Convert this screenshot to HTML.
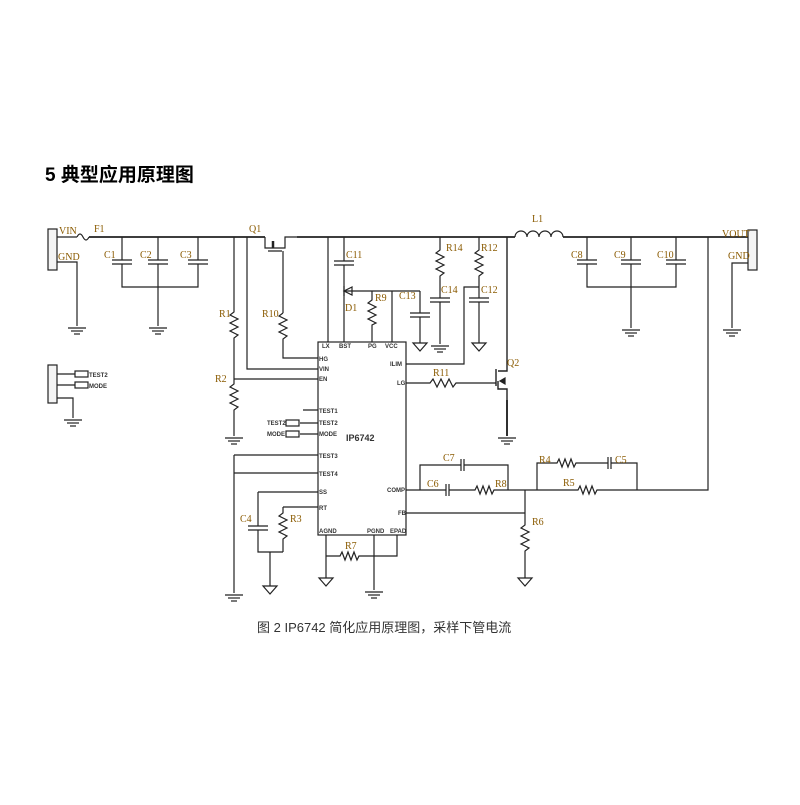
<!DOCTYPE html>
<html><head><meta charset="utf-8"><style>
body{margin:0;background:#fff;width:800px;height:800px;overflow:hidden}
.o{fill:#8a5a00;font-family:"Liberation Serif",serif}
</style></head><body>
<svg width="800" height="800" viewBox="0 0 800 800" xmlns="http://www.w3.org/2000/svg">
<defs>
<g id="gnd"><line x1="-9" y1="0" x2="9" y2="0"/><line x1="-6" y1="3" x2="6" y2="3"/><line x1="-3" y1="6" x2="3" y2="6"/></g>
<g id="tri"><path d="M-7 0H7L0 8Z" fill="none"/></g>
</defs>
<text x="45" y="181" style="font-family:'Liberation Sans','Noto Sans CJK SC',sans-serif;font-size:19px;font-weight:bold">5 典型应用原理图</text>
<g stroke="#222" stroke-width="1.2" fill="none">
<path d="M57 237H77"/><path d="M77 237q3-6 6 0t6 0"/><path d="M89 237H265M297 237H515" stroke-width="1.8"/>
<path d="M515 237a6 6 0 0 1 12 0a6 6 0 0 1 12 0a6 6 0 0 1 12 0a6 6 0 0 1 12 0"/>
<path d="M563 237H750" stroke-width="1.8"/>
<rect x="48" y="229" width="9" height="41" fill="#f4f4f4"/>
<rect x="748" y="230" width="9" height="40" fill="#f4f4f4"/>
<path d="M57 262H77V326"/><use href="#gnd" x="77" y="328"/>
<path d="M122 237V260M158 237V260M198 237V260M122 264V287H198V264M158 264V326"/>
<path d="M112 260H132M112 264H132M148 260H168M148 264H168M188 260H208M188 264H208"/>
<use href="#gnd" x="158" y="328"/>
<path d="M265 237V248H285V237H297M268 251H282M283 251V313"/>
<path d="M273 241V248" stroke-width="2.5"/>
<path d="M234 237V312l-4 3 8 4-8 4 8 4-8 4 8 4-4 3V384l-4 3 8 4-8 4 8 4-8 4 8 4-4 3V436"/>
<path d="M234 379H318"/><use href="#gnd" x="234" y="438"/>
<path d="M247 237V369H318"/>
<path d="M283 313l-4 3 8 4-8 4 8 4-8 4 8 4-4 3V358H318"/>
<rect x="318" y="342" width="88" height="193"/>
<path d="M328 237V342M344 237V261M344 265V342M334 261H354M334 265H354"/>
<path d="M344 291H420M372 291V300l-4 3 8 4-8 4 8 4-8 4 8 4-4 2V342M392 291V342"/>
<path d="M352 287l-8 4 8 4Z M344 286V296"/>
<path d="M420 291V313M410 313H430M410 317H430M420 317V343"/><use href="#tri" x="420" y="343"/>
<path d="M440 237V250l-4 3 8 4-8 4 8 4-8 4 8 4-4 3V298M430 298H450M430 302H450M440 302V344"/><use href="#gnd" x="440" y="346"/>
<path d="M479 237V250l-4 3 8 4-8 4 8 4-8 4 8 4-4 3V298M469 298H489M469 302H489M479 302V343"/><use href="#tri" x="479" y="343"/>
<path d="M406 364H464V287H479"/>
<path d="M507 237V371H498M498 381V389H507V436M496 369V386" stroke-width="1.4"/>
<path d="M406 383H430l3-4 4 8 4-8 4 8 4-8 4 8 3-4H496"/>
<path d="M500 381l5-3v6z" fill="#222"/>
<path d="M507 400V436" stroke-width="1.8"/><use href="#gnd" x="507" y="438"/>
<path d="M587 237V260M631 237V260M676 237V260M587 264V287H676V264M631 264V328"/>
<path d="M577 260H597M577 264H597M621 260H641M621 264H641M666 260H686M666 264H686"/>
<use href="#gnd" x="631" y="330"/>
<path d="M748 263H732V328"/><use href="#gnd" x="732" y="330"/>
<path d="M708 237V490H637"/>
<path d="M406 490H446M449 490H475l2-4 3 8 3-8 3 8 3-8 3 8 2-4H525"/>
<path d="M446 484V496M449 484V496"/>
<path d="M420 490V465H461M464 465H508V490M461 459V471M464 459V471"/>
<path d="M525 490H578l2-4 3 8 3-8 3 8 3-8 3 8 2-4H637"/>
<path d="M537 490V463H557l2-4 3 8 3-8 3 8 3-8 3 8 2-4H608M611 463H637V490M608 457V469M611 457V469"/>
<path d="M406 513H525M525 490V525l-4 3 8 4-8 4 8 4-8 4 8 4-4 3V578"/><use href="#tri" x="525" y="578"/>
<path d="M234 455H318M234 473H318M234 455V593"/><use href="#gnd" x="234" y="595"/>
<path d="M258 492H318M258 492V526M248 526H268M248 530H268M258 530V552H283M283 507H318M283 507V513l-4 3 8 4-8 4 8 4-8 4 8 4-4 3V552M270 552V586"/>
<use href="#tri" x="270" y="586"/>
<path d="M326 535V578M326 556H340l2-4 3 8 3-8 3 8 3-8 3 8 2-4H397V535M374 535V590"/>
<use href="#tri" x="326" y="578"/><use href="#gnd" x="374" y="592"/>
<path d="M303 410H318M300 423H318M300 434H318"/>
<rect x="286" y="420" width="13" height="6"/><rect x="286" y="431" width="13" height="6"/>
<rect x="48" y="365" width="9" height="38" fill="#f4f4f4"/>
<path d="M57 374H75M57 385H75M57 398H73V418"/>
<rect x="75" y="371" width="13" height="6"/><rect x="75" y="382" width="13" height="6"/>
<use href="#gnd" x="73" y="420"/>
</g>
<g font-size="10" class="o">
<text x="59" y="234">VIN</text><text x="94" y="232">F1</text><text x="58" y="260">GND</text>
<text x="104" y="258">C1</text><text x="140" y="258">C2</text><text x="180" y="258">C3</text>
<text x="249" y="232">Q1</text><text x="346" y="258">C11</text><text x="345" y="311">D1</text>
<text x="375" y="301">R9</text><text x="399" y="299">C13</text><text x="446" y="251">R14</text>
<text x="481" y="251">R12</text><text x="441" y="293">C14</text><text x="481" y="293">C12</text>
<text x="532" y="222">L1</text><text x="722" y="237">VOUT</text><text x="728" y="259">GND</text>
<text x="571" y="258">C8</text><text x="614" y="258">C9</text><text x="657" y="258">C10</text>
<text x="219" y="317">R1</text><text x="262" y="317">R10</text><text x="215" y="382">R2</text>
<text x="433" y="376">R11</text><text x="507" y="366">Q2</text>
<text x="443" y="461">C7</text><text x="427" y="487">C6</text><text x="495" y="487">R8</text>
<text x="539" y="463">R4</text><text x="615" y="463">C5</text><text x="563" y="486">R5</text>
<text x="532" y="525">R6</text><text x="240" y="522">C4</text><text x="290" y="522">R3</text>
<text x="345" y="549">R7</text>
</g>
<g font-family="Liberation Sans, sans-serif" font-size="6" font-weight="bold" fill="#333">
<text x="322" y="348">LX</text><text x="339" y="348">BST</text><text x="368" y="348">PG</text><text x="385" y="348">VCC</text>
<text x="319" y="361">HG</text><text x="319" y="371">VIN</text><text x="319" y="381">EN</text>
<text x="390" y="366">ILIM</text><text x="397" y="385">LG</text>
<text x="319" y="413">TEST1</text><text x="319" y="425">TEST2</text><text x="319" y="436">MODE</text>
<text x="319" y="458">TEST3</text><text x="319" y="476">TEST4</text><text x="319" y="494">SS</text><text x="319" y="510">RT</text>
<text x="387" y="492">COMP</text><text x="398" y="515">FB</text>
<text x="319" y="533">AGND</text><text x="367" y="533">PGND</text><text x="390" y="533">EPAD</text>
<text x="267" y="425">TEST2</text><text x="267" y="436">MODE</text>
<text x="89" y="377">TEST2</text><text x="89" y="388">MODE</text>
<text x="346" y="441" font-size="9">IP6742</text>
</g>
<text x="257" y="632" style="font-family:'Liberation Sans','Noto Sans CJK SC',sans-serif;font-size:13px;fill:#333">图 2 IP6742 简化应用原理图，采样下管电流</text>
</svg>
</body></html>
